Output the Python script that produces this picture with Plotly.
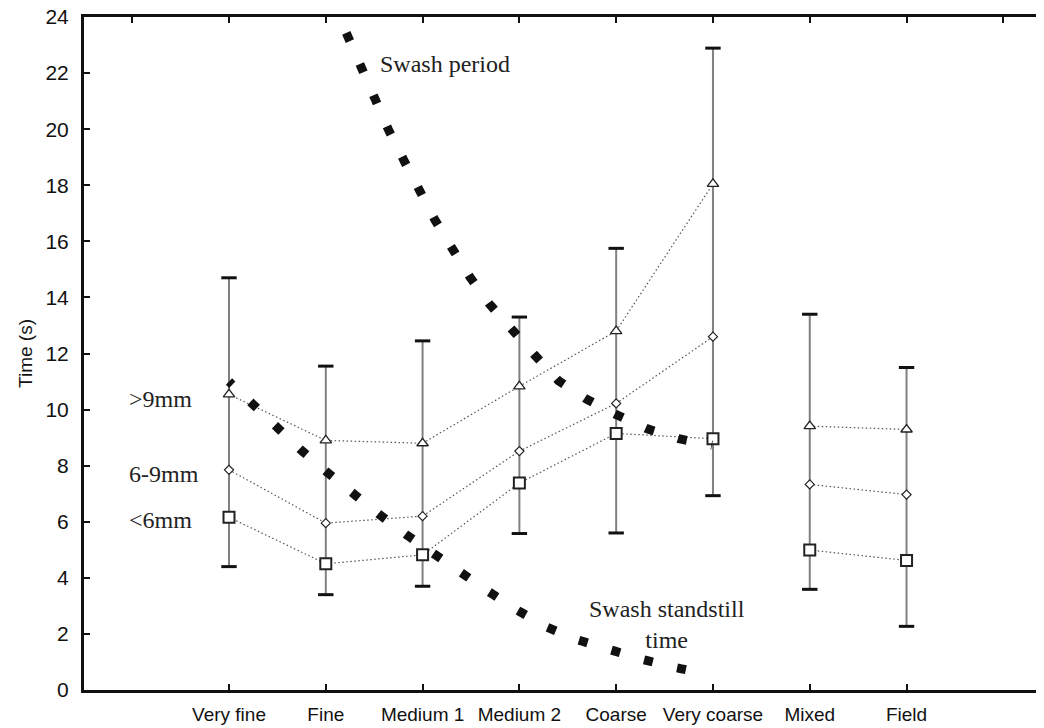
import plotly.graph_objects as go

# categories (positions 0..7 on a linear x axis)
categories = ['Very fine', 'Fine', 'Medium 1', 'Medium 2', 'Coarse', 'Very coarse', 'Mixed', 'Field']
xpos = list(range(len(categories)))

# mean times per grain size class
gt9mm = [10.54, 8.9, 8.8, 10.83, 12.8, 18.05, 9.41, 9.29]
mm6_9 = [7.85, 5.95, 6.2, 8.52, 10.22, 12.6, 7.33, 6.97]
lt6mm = [6.16, 4.5, 4.82, 7.38, 9.15, 8.96, 4.99, 4.62]

# error bar range (low / high)
err_low = [4.4, 3.4, 3.7, 5.58, 5.6, 6.93, 3.59, 2.27]
err_high = [14.7, 11.55, 12.45, 13.3, 15.75, 22.89, 13.4, 11.5]

# swash period curve
period_x = [1.09, 1.226, 1.361, 1.505, 1.646, 1.805, 1.96, 2.125, 2.307, 2.49,
            2.694, 2.916, 3.159, 3.404, 3.685, 3.995, 4.315, 4.646, 4.99]
period_y = [24.4, 23.28, 22.15, 21.07, 19.99, 18.90, 17.82, 16.78, 15.74, 14.72,
            13.75, 12.83, 11.94, 11.03, 10.39, 9.83, 9.32, 8.96, 8.73]

# swash standstill time curve
stand_x = [0.0, 0.227, 0.482, 0.74, 1.004, 1.272, 1.545, 1.827, 2.108, 2.394,
           2.686, 2.982, 3.28, 3.60, 3.937, 4.27, 4.613, 4.954]
stand_y = [11.0, 10.22, 9.37, 8.57, 7.79, 7.01, 6.28, 5.55, 4.86, 4.16,
           3.5, 2.84, 2.25, 1.79, 1.41, 1.09, 0.8, 0.56]

top_ticks = list(range(-1, 9))
XR = [-1.498, 8.42]

fig = go.Figure()

# vertical error bar lines
ex, ey = [], []
for x, lo, hi in zip(xpos, err_low, err_high):
    ex += [x, x, None]
    ey += [lo, hi, None]
fig.add_trace(go.Scatter(x=ex, y=ey, mode='lines', line=dict(color='#808080', width=2),
                         hoverinfo='skip', showlegend=False))
# caps
fig.add_trace(go.Scatter(x=xpos + xpos, y=err_low + err_high, mode='markers',
                         marker=dict(symbol='line-ew', size=11, line=dict(color='#111', width=3)),
                         hoverinfo='skip', showlegend=False))


def with_gap(vals):
    # lab classes joined, break before Mixed/Field
    return vals[:6] + [None] + vals[6:]


gx = xpos[:6] + [None] + xpos[6:]

series = [
    ('>9mm', gt9mm, 'triangle-up', 10, 1.3),
    ('6-9mm', mm6_9, 'diamond', 7, 1.2),
    ('<6mm', lt6mm, 'square', 11, 2),
]
for name, vals, sym, size, lw in series:
    fig.add_trace(go.Scatter(
        x=gx, y=with_gap(vals), mode='lines+markers', name=name,
        line=dict(color='#555', width=1.2, dash='1.5px,2.5px'),
        marker=dict(symbol=sym, size=size, color='white', line=dict(color='#222', width=lw)),
        showlegend=False))

for cx, cy in [(period_x, period_y), (stand_x, stand_y)]:
    fig.add_trace(go.Scatter(x=cx, y=cy, mode='lines',
                             line=dict(color='#111', width=9, dash='4.5px,25px,4.5px,0px'),
                             hoverinfo='skip', showlegend=False))

serif = dict(family='Liberation Serif, Times New Roman, serif', size=24, color='#222')
for txt, y in [('>9mm', 10.39), ('6-9mm', 7.7), ('<6mm', 6.07)]:
    fig.add_annotation(x=-1.054, y=y, text=txt, showarrow=False, xanchor='left', yanchor='middle', font=serif)
fig.add_annotation(x=1.542, y=22.31, text='Swash period', showarrow=False,
                   xanchor='left', yanchor='middle', font=serif)
fig.add_annotation(x=4.52, y=2.33, text='Swash standstill<br>time', showarrow=False,
                   xanchor='center', yanchor='middle', font=serif)

# the page body adds an 8px margin, so the figure is 8px smaller than the window
fig.update_layout(
    width=1036, height=720,
    margin=dict(l=76, r=0, t=9, b=38),
    plot_bgcolor='white', paper_bgcolor='white',
    font=dict(family='Liberation Sans, Arial, sans-serif', color='#111'),
    xaxis=dict(range=XR, tickvals=xpos, ticktext=categories, ticks='inside', ticklen=6,
               tickwidth=2, tickcolor='#111', showline=True, linewidth=3, linecolor='#111',
               showgrid=False, zeroline=False, tickfont=dict(size=19), ticklabelstandoff=5,
               automargin=False, ticklabeloverflow='allow'),
    xaxis2=dict(range=XR, overlaying='x', side='top', anchor='y', tickvals=top_ticks,
                ticks='inside', ticklen=6, tickwidth=2, tickcolor='#111', showline=True,
                linewidth=3, linecolor='#111', showticklabels=False, showgrid=False,
                zeroline=False, automargin=False),
    yaxis=dict(range=[0, 24], dtick=2, ticks='inside', ticklen=6, tickwidth=2, tickcolor='#111',
               showline=True, linewidth=3, linecolor='#111', showgrid=False, zeroline=False,
               tickfont=dict(size=21), ticklabelstandoff=8, automargin=False,
               ticklabeloverflow='allow',
               title=dict(text='Time (s)', font=dict(size=19), standoff=8)),
)
# dummy trace so the top axis is drawn
fig.add_trace(go.Scatter(x=[None], y=[None], xaxis='x2', showlegend=False, hoverinfo='skip'))

fig.write_html("out.html")
